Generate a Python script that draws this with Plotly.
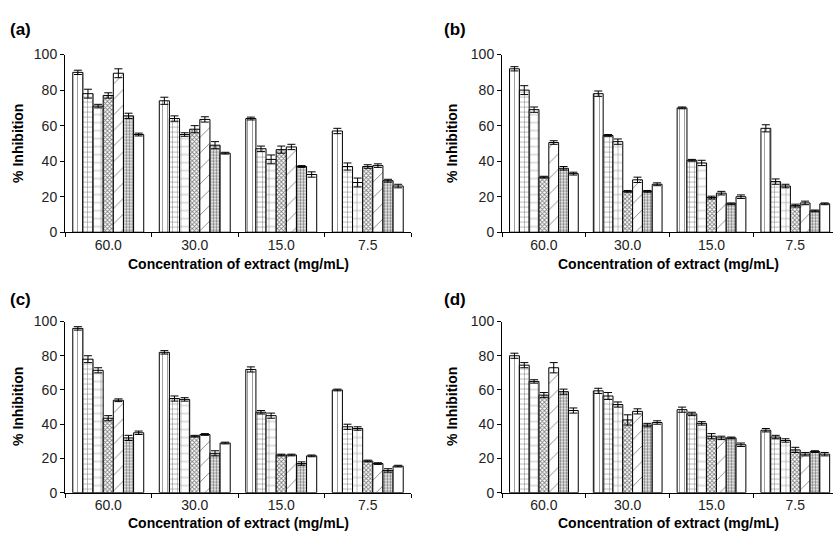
import plotly.graph_objects as go

categories = ["60.0", "30.0", "15.0", "7.5"]

# values per series (7 extracts) across the four concentrations
panel_a = [
    [90, 74, 64, 57],
    [78, 64, 47, 37],
    [71, 55, 41, 28],
    [77, 58, 46.5, 37],
    [89.5, 63.5, 48, 37.5],
    [65.5, 49, 37, 29],
    [55, 44.5, 32.5, 26],
]
panel_a_err = [
    [1.2, 2, 0.8, 1.5],
    [2.5, 1.5, 1.5, 2],
    [1, 1, 2.5, 2.5],
    [1.5, 2, 2, 1],
    [2.5, 1.5, 1.5, 1],
    [1.5, 2, 0.5, 0.8],
    [0.8, 0.5, 1.5, 1],
]
panel_b = [
    [92, 78, 70, 58.5],
    [80, 54.5, 40.5, 28.5],
    [69, 51, 39, 26],
    [31, 23, 19.5, 15],
    [50.5, 29.5, 22, 16.5],
    [36, 23, 16, 12],
    [33, 27, 20, 16],
]
panel_b_err = [
    [1.2, 1.5, 0.5, 2],
    [2.5, 0.5, 0.5, 1.5],
    [1.5, 1.5, 1.5, 1],
    [0.5, 0.5, 0.8, 0.8],
    [1, 1.5, 1, 1],
    [1, 0.5, 0.5, 0.5],
    [0.8, 0.8, 1, 0.5],
]
panel_c = [
    [96, 82, 72, 60],
    [78, 55, 47, 38.5],
    [71.5, 54.5, 45, 37.5],
    [43.5, 33, 22, 18.5],
    [54, 34, 22, 17],
    [32, 23, 17, 13],
    [35, 29, 21.5, 15.5],
]
panel_c_err = [
    [1, 1, 1.5, 0.5],
    [2, 1.5, 1, 1.5],
    [1.5, 1, 1.5, 1],
    [1.5, 0.5, 0.5, 0.5],
    [0.8, 0.5, 0.5, 0.5],
    [1.5, 1.5, 1, 1],
    [1, 0.5, 0.5, 0.5],
]
panel_d = [
    [80, 59.5, 48.5, 36.5],
    [74.5, 56.5, 46, 32.5],
    [65, 51.5, 40.5, 30.5],
    [57, 42.5, 33, 25],
    [73, 47.5, 32, 22.5],
    [59, 39.5, 32, 24],
    [48, 41, 28, 22.5],
]
panel_d_err = [
    [1.5, 1.5, 1.5, 1],
    [1.5, 2, 1, 1],
    [1, 1.5, 1, 1],
    [1.5, 3, 1.5, 1.5],
    [3, 1.5, 1, 1],
    [1.5, 1, 0.5, 0.5],
    [1.5, 1, 1, 1],
]

panel_labels = ["(a)", "(b)", "(c)", "(d)"]
y_title = "% Inhibition"
x_title = "Concentration of extract (mg/mL)"

patterns = [
    dict(shape="|", size=5, solidity=0.15),
    dict(shape="+", size=5, solidity=0.2),
    dict(shape="+", size=8, solidity=0.12),
    dict(shape="x", size=3, solidity=0.5),
    dict(shape="/", size=11, solidity=0.08),
    dict(shape=".", size=3, solidity=0.5),
    dict(shape="", size=5, solidity=0.2),
]

W, H = 833, 546
FONT = "Liberation Sans, Arial, Helvetica, sans-serif"

fig = go.Figure()

panels = [
    (panel_a, panel_a_err, "x", "y"),
    (panel_b, panel_b_err, "x2", "y2"),
    (panel_c, panel_c_err, "x3", "y3"),
    (panel_d, panel_d_err, "x4", "y4"),
]
for vals, errs, xa, ya in panels:
    for i, (v, e) in enumerate(zip(vals, errs)):
        p = patterns[i]
        marker = dict(color="white", line=dict(color="black", width=1))
        if p["shape"]:
            marker["pattern"] = dict(shape=p["shape"], size=p["size"], solidity=p["solidity"],
                                     fgcolor="black", bgcolor="white", fillmode="overlay")
        fig.add_trace(go.Bar(
            x=categories, y=v, xaxis=xa, yaxis=ya, marker=marker,
            error_y=dict(type="data", array=e, visible=True, color="black", thickness=1, width=4),
            showlegend=False, offsetgroup=str(i),
        ))

# pixel geometry
def px_x(p):
    return p / W

def px_y(p):
    return 1 - p / H

top_y = [px_y(231), px_y(48)]
bot_y = [px_y(499.3), px_y(323)]
left_x = [px_x(65), px_x(411)]
right_x = [px_x(502), 1.0]

xcommon = dict(type="category", showline=True, linecolor="black", linewidth=1,
               ticks="outside", ticklen=4, tickcolor="black", tickson="boundaries",
               showgrid=False, zeroline=False, tickfont=dict(family=FONT, size=14, color="#222"),
               fixedrange=True)
ycommon = dict(range=[0, 100], dtick=20, showline=True, linecolor="black", linewidth=1,
               ticks="outside", ticklen=4, tickcolor="black", showgrid=False, zeroline=False,
               tickfont=dict(family=FONT, size=14, color="#222"), fixedrange=True)

right_span = (W - 502) / 83.8
layout_axes = dict(
    xaxis=dict(domain=left_x, anchor="y", range=[-0.5, 3.5], **xcommon),
    yaxis=dict(domain=top_y, anchor="x", **ycommon),
    xaxis2=dict(domain=right_x, anchor="y2", range=[-0.5, -0.5 + right_span], **xcommon),
    yaxis2=dict(domain=top_y, anchor="x2", **ycommon),
    xaxis3=dict(domain=left_x, anchor="y3", range=[-0.5, 3.5], **xcommon),
    yaxis3=dict(domain=bot_y, anchor="x3", **ycommon),
    xaxis4=dict(domain=right_x, anchor="y4", range=[-0.5, -0.5 + right_span], **xcommon),
    yaxis4=dict(domain=bot_y, anchor="x4", **ycommon),
)

annotations = []
label_pos = [(8, 22), (442, 22), (8, 300), (442, 300)]
for lab, (lx, ly) in zip(panel_labels, label_pos):
    annotations.append(dict(text="<b>%s</b>" % lab, x=px_x(lx), y=px_y(ly), xref="paper", yref="paper",
                            xanchor="left", yanchor="middle", showarrow=False,
                            font=dict(family=FONT, size=17, color="black")))
# y titles
for (cx, cy) in [(18, 140), (452, 140), (18, 411), (452, 411)]:
    annotations.append(dict(text="<b>%s</b>" % y_title, x=px_x(cx), y=px_y(cy), xref="paper", yref="paper",
                            xanchor="center", yanchor="middle", textangle=-90, showarrow=False,
                            font=dict(family=FONT, size=14, color="black")))
# x titles
for (cx, cy) in [(238, 264), (668, 264), (238, 531), (668, 531)]:
    annotations.append(dict(text="<b>%s</b>" % x_title, x=px_x(cx), y=px_y(cy), xref="paper", yref="paper",
                            xanchor="center", yanchor="middle", showarrow=False,
                            font=dict(family=FONT, size=14, color="black")))

fig.update_layout(
    width=W, height=H, margin=dict(l=0, r=0, t=0, b=0),
    paper_bgcolor="white", plot_bgcolor="white",
    barmode="group", bargap=0.18, bargroupgap=0,
    annotations=annotations, showlegend=False,
    font=dict(family=FONT),
    **layout_axes,
)

fig.write_html("out.html", config={"displayModeBar": False},
               post_script="document.body.style.margin='0';document.body.style.overflow='hidden';")
